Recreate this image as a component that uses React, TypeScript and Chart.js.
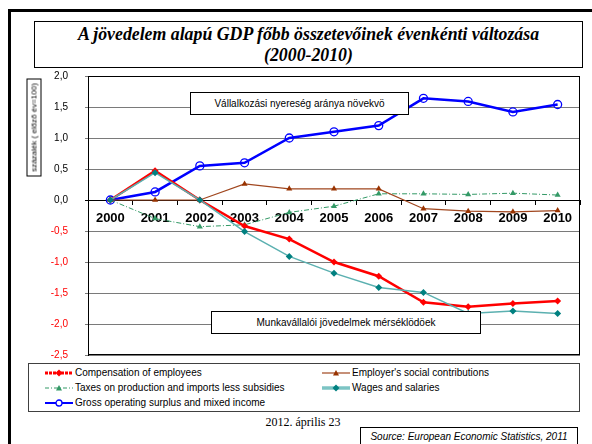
import React, { useEffect, useRef } from 'react';
import { Chart, registerables } from 'chart.js';

Chart.register(...registerables);

const years = ['2000', '2001', '2002', '2003', '2004', '2005', '2006', '2007', '2008', '2009', '2010'];
const compensation = [0, 0.47, 0, -0.42, -0.63, -1.0, -1.23, -1.65, -1.72, -1.67, -1.63];
const employerSocial = [0, 0, 0, 0.26, 0.18, 0.18, 0.18, -0.14, -0.18, -0.19, -0.17];
const taxesLessSubsidies = [0, -0.3, -0.43, -0.4, -0.2, -0.1, 0.1, 0.1, 0.09, 0.11, 0.08];
const wagesSalaries = [0, 0.44, 0, -0.51, -0.91, -1.18, -1.41, -1.49, -1.83, -1.79, -1.83];
const grossSurplus = [0, 0.13, 0.55, 0.6, 1.0, 1.1, 1.2, 1.64, 1.59, 1.42, 1.54];

const yMin = -2.5;
const yMax = 2;
const yStep = 0.5;

const titleLines = ['A jövedelem alapú GDP főbb összetevőinek évenkénti változása', '(2000-2010)'];
const yTitle = 'százalék ( előző év=100)';
const noteUp = 'Vállalkozási nyereség aránya növekvö';
const noteDown = 'Munkavállalói jövedelmek mérséklödöek';
const dateText = '2012. április 23';
const sourceText = 'Source: European Economic Statistics, 2011';

const SANS = '"Liberation Sans", Arial, sans-serif';
const SERIF = '"Liberation Serif", "Times New Roman", serif';

const frame = {
  id: 'frame',
  beforeDatasetsDraw(chart: any) {
    const { ctx, chartArea: a } = chart;
    ctx.save();
    ctx.strokeStyle = '#000';
    ctx.lineWidth = 1;
    ctx.strokeRect(Math.round(a.left) + 0.5, Math.round(a.top) + 0.5, Math.round(a.right - a.left) - 1, Math.round(a.bottom - a.top) - 1);
    ctx.restore();
  },
};

function Sample({ kind }: { kind: string }) {
  const w = 28;
  const h = 10;
  const c = h / 2;
  let line: any = null;
  let mark: any = null;
  if (kind === 'comp') {
    line = <line x1={0} y1={c} x2={w} y2={c} stroke="#FF0000" strokeWidth={3} strokeDasharray="3,1" />;
    mark = <polygon points={`${w / 2},${c - 3.5} ${w / 2 + 3.5},${c} ${w / 2},${c + 3.5} ${w / 2 - 3.5},${c}`} fill="#FF0000" />;
  } else if (kind === 'emp') {
    line = <line x1={0} y1={c} x2={w} y2={c} stroke="#A0461E" strokeWidth={1.2} />;
    mark = <polygon points={`${w / 2},${c - 3} ${w / 2 + 3},${c + 2.5} ${w / 2 - 3},${c + 2.5}`} fill="#993300" />;
  } else if (kind === 'tax') {
    line = <line x1={0} y1={c} x2={w} y2={c} stroke="#339966" strokeWidth={1} strokeDasharray="4,2,1,2" />;
    mark = <polygon points={`${w / 2},${c - 3} ${w / 2 + 3},${c + 2.5} ${w / 2 - 3},${c + 2.5}`} fill="#339966" />;
  } else if (kind === 'wage') {
    line = <line x1={0} y1={c} x2={w} y2={c} stroke="#7CC4C4" strokeWidth={3.5} />;
    mark = <polygon points={`${w / 2},${c - 3.5} ${w / 2 + 3.5},${c} ${w / 2},${c + 3.5} ${w / 2 - 3.5},${c}`} fill="#008080" />;
  } else {
    line = <line x1={0} y1={c} x2={w} y2={c} stroke="#0000FF" strokeWidth={2} />;
    mark = <circle cx={w / 2} cy={c} r={3} fill="#fff" stroke="#0000FF" strokeWidth={1.3} />;
  }
  return (
    <svg width={w} height={h} style={{ position: 'absolute', left: 0, top: -h / 2 }}>
      {line}
      {mark}
    </svg>
  );
}

const legendItems = [
  { label: 'Compensation of employees', kind: 'comp', col: 0, row: 0 },
  { label: "Employer's social contributions", kind: 'emp', col: 1, row: 0 },
  { label: 'Taxes on production and imports less subsidies', kind: 'tax', col: 0, row: 1 },
  { label: 'Wages and salaries', kind: 'wage', col: 1, row: 1 },
  { label: 'Gross operating surplus and mixed income', kind: 'gross', col: 0, row: 2 },
];

export default function App() {
  const ref = useRef<HTMLCanvasElement>(null);

  useEffect(() => {
    const chart = new Chart(ref.current as HTMLCanvasElement, {
      type: 'line',
      data: {
        labels: years,
        datasets: [
          {
            label: 'Compensation of employees',
            data: compensation,
            borderColor: '#FF0000',
            backgroundColor: '#FF0000',
            borderWidth: 2.5,
            pointStyle: 'rectRot',
            pointRadius: 3.5,
            pointBorderWidth: 0,
            pointBackgroundColor: '#FF0000',
            tension: 0,
            order: 2,
          },
          {
            label: "Employer's social contributions",
            data: employerSocial,
            borderColor: '#A0461E',
            backgroundColor: '#993300',
            borderWidth: 1.2,
            pointStyle: 'triangle',
            pointRadius: 3.5,
            pointBorderWidth: 0,
            pointBackgroundColor: '#993300',
            tension: 0,
            order: 3,
          },
          {
            label: 'Taxes on production and imports less subsidies',
            data: taxesLessSubsidies,
            borderColor: '#339966',
            backgroundColor: '#339966',
            borderWidth: 1,
            borderDash: [5, 2, 1, 2],
            pointStyle: 'triangle',
            pointRadius: 3.5,
            pointBorderWidth: 0,
            pointBackgroundColor: '#339966',
            tension: 0,
            order: 4,
          },
          {
            label: 'Wages and salaries',
            data: wagesSalaries,
            borderColor: '#5BB0B0',
            backgroundColor: '#008080',
            borderWidth: 1.5,
            pointStyle: 'rectRot',
            pointRadius: 3.5,
            pointBorderWidth: 0,
            pointBackgroundColor: '#008080',
            tension: 0,
            order: 1,
          },
          {
            label: 'Gross operating surplus and mixed income',
            data: grossSurplus,
            borderColor: '#0000FF',
            backgroundColor: '#0000FF',
            borderWidth: 2.5,
            pointStyle: 'circle',
            pointRadius: 4,
            pointBorderWidth: 1.3,
            pointBorderColor: '#0000FF',
            pointBackgroundColor: 'rgba(255,255,255,0)',
            tension: 0,
            order: 5,
          },
        ],
      },
      options: {
        responsive: false,
        animation: false,
        layout: { padding: { top: 14, right: 8, bottom: 6, left: 0 } },
        plugins: {
          legend: { display: false },
          tooltip: { enabled: false },
          title: { display: false },
        },
        scales: {
          x: {
            type: 'category',
            position: { y: 0 } as any,
            offset: true,
            afterFit: (s: any) => {
              s.height = 0;
            },
            grid: { offset: true, drawOnChartArea: false, drawTicks: true, tickLength: 4, color: '#000' },
            border: { display: true, color: '#000', width: 1 },
            ticks: {
              font: { family: SANS, size: 13, weight: 'bold' },
              color: '#000',
              padding: 7,
              maxRotation: 0,
              autoSkip: false,
            },
          },
          y: {
            min: yMin,
            max: yMax,
            afterFit: (s: any) => {
              s.width = 48;
            },
            ticks: {
              stepSize: yStep,
              padding: 17,
              callback: (v: any) => Number(v).toFixed(1).replace('.', ','),
              color: (c: any) => (c.tick && c.tick.value < 0 ? '#FF0000' : '#000'),
              font: { family: SANS, size: 10 },
            },
            grid: {
              color: (c: any) => (c.tick && Math.abs(c.tick.value) < 1e-9 ? '#000' : '#7a7a7a'),
              tickLength: 3,
              drawTicks: true,
            },
            border: { display: true, color: '#000', width: 1 },
          },
        },
      } as any,
      plugins: [frame],
    });
    return () => chart.destroy();
  }, []);

  return (
    <div style={{ position: 'fixed', left: 0, top: 0, width: 592, height: 444, overflow: 'hidden', background: '#fff', fontFamily: SANS }}>
      <div style={{ position: 'absolute', left: 8, top: 9, width: 700, height: 600, borderLeft: '3px solid #000', borderTop: '3px solid #000' }} />
      <div
        style={{
          position: 'absolute', left: 34, top: 21, width: 549, height: 47, border: '1px solid #000', boxSizing: 'border-box',
          display: 'flex', flexDirection: 'column', alignItems: 'center', justifyContent: 'center',
          fontFamily: SERIF, fontStyle: 'italic', fontWeight: 'bold', fontSize: 17.8, lineHeight: '21px', color: '#000',
        }}
      >
        {titleLines.map((t) => (
          <div key={t}>{t}</div>
        ))}
      </div>
      <canvas ref={ref} width={548} height={325} style={{ position: 'absolute', left: 40, top: 53, width: 548, height: 325, display: 'block' }} />
      <div
        style={{
          position: 'absolute', left: 33.5 - 49, top: 127 - 7.5, width: 98, height: 15, border: '1px solid #000', boxSizing: 'border-box',
          transform: 'rotate(-90deg)', fontSize: 8, lineHeight: '13px', textAlign: 'center', whiteSpace: 'nowrap', background: '#fff', color: '#000',
        }}
      >
        {yTitle}
      </div>
      <div
        style={{
          position: 'absolute', left: 190, top: 92, width: 219, height: 23, border: '1px solid #000', boxSizing: 'border-box', background: '#fff',
          fontSize: 10, lineHeight: '21px', textAlign: 'center', whiteSpace: 'nowrap', color: '#000',
        }}
      >
        {noteUp}
      </div>
      <div
        style={{
          position: 'absolute', left: 211, top: 311, width: 270, height: 23, border: '1px solid #000', boxSizing: 'border-box', background: '#fff',
          fontSize: 10, lineHeight: '21px', textAlign: 'center', whiteSpace: 'nowrap', color: '#000',
        }}
      >
        {noteDown}
      </div>
      <div style={{ position: 'absolute', left: 28, top: 363, width: 552, height: 49, border: '1px solid #404040', boxSizing: 'border-box', background: '#fff' }}>
        {legendItems.map((it) => {
          const sx = it.col === 0 ? 16 : 293;
          const cy = 9 + it.row * 15;
          return (
            <div key={it.label}>
              <div style={{ position: 'absolute', left: sx, top: cy, width: 28, height: 0 }}>
                <Sample kind={it.kind} />
              </div>
              <div style={{ position: 'absolute', left: sx + 30, top: cy - 7, height: 14, lineHeight: '14px', fontSize: 10, whiteSpace: 'nowrap', color: '#000' }}>
                {it.label}
              </div>
            </div>
          );
        })}
      </div>
      <div style={{ position: 'absolute', left: 243, top: 415, width: 120, textAlign: 'center', fontFamily: SERIF, fontSize: 12, lineHeight: '14px', color: '#000' }}>
        {dateText}
      </div>
      <div
        style={{
          position: 'absolute', left: 360, top: 427, width: 218, height: 30, border: '1px solid #000', boxSizing: 'border-box',
          fontStyle: 'italic', fontSize: 10, lineHeight: '12px', paddingTop: 3, textAlign: 'center', whiteSpace: 'nowrap', color: '#000',
        }}
      >
        {sourceText}
      </div>
    </div>
  );
}
